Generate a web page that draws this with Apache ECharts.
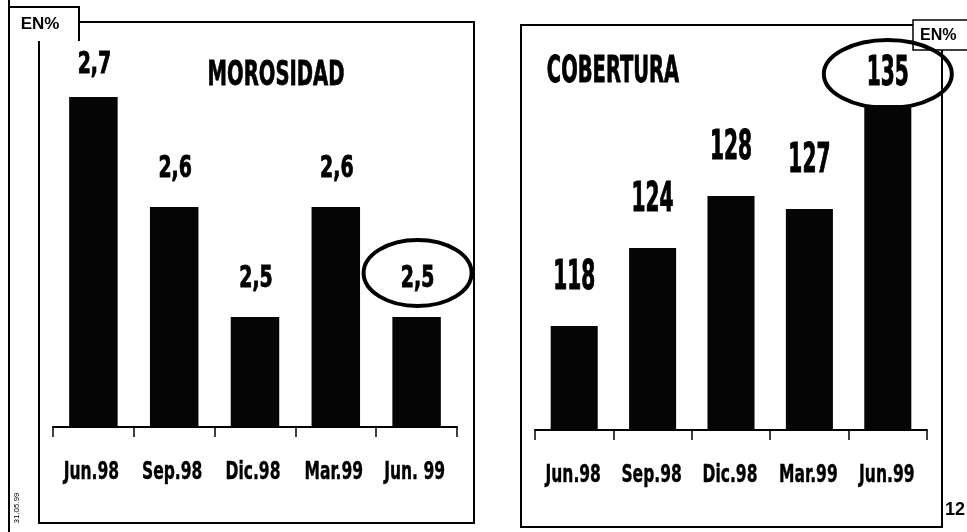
<!DOCTYPE html>
<html>
<head>
<meta charset="utf-8">
<script src="https://cdn.jsdelivr.net/npm/echarts@6/dist/echarts.min.js"></script>
<style>
html,body{margin:0;padding:0;background:#fff;}
#c{width:967px;height:532px;}
</style>
</head>
<body>
<div id="c"></div>
<script>
// ---- data ----
const categoriesMor = ['Jun.98', 'Sep.98', 'Dic.98', 'Mar.99', 'Jun. 99'];
const valuesMor = [2.7, 2.6, 2.5, 2.6, 2.5];
const categoriesCob = ['Jun.98', 'Sep.98', 'Dic.98', 'Mar.99', 'Jun.99'];
const valuesCob = [118, 124, 128, 127, 135];
const titleMor = 'MOROSIDAD';
const titleCob = 'COBERTURA';
const unitLabel = 'EN%';
const pageNumber = '12';
const dateStamp = '31.05.99';

const NARROW = '"Liberation Sans Narrow", "Arial Narrow", "DejaVu Sans Condensed", "DejaVu Sans", sans-serif';
const SANS = '"Liberation Sans", Arial, sans-serif';

const chart = echarts.init(document.getElementById('c'), null, {renderer: 'canvas'});

function catAxis(gridIndex, data) {
  return {
    type: 'category', gridIndex: gridIndex, data: data,
    boundaryGap: true,
    axisLine: {show: true, lineStyle: {color: '#000', width: 2}},
    axisTick: {show: true, length: 10, lineStyle: {color: '#000', width: 1.5}},
    axisLabel: {show: false},
    splitLine: {show: false}
  };
}
function valAxis(gridIndex, min, max) {
  return {type: 'value', gridIndex: gridIndex, min: min, max: max, show: false, splitLine: {show: false}};
}

const option = {
  animation: false,
  backgroundColor: '#fff',
  grid: [
    {left: 53, right: 967 - 457, top: 97, bottom: 532 - 427},
    {left: 535, right: 967 - 927, top: 105, bottom: 532 - 430}
  ],
  xAxis: [catAxis(0, categoriesMor), catAxis(1, categoriesCob)],
  yAxis: [valAxis(0, 2.4, 2.7), valAxis(1, 110, 135)],
  series: [
    {type: 'bar', xAxisIndex: 0, yAxisIndex: 0, data: valuesMor, barWidth: '60%', itemStyle: {color: '#050505'}},
    {type: 'bar', xAxisIndex: 1, yAxisIndex: 1, data: valuesCob, barWidth: '60%', itemStyle: {color: '#050505'}}
  ]
};
chart.setOption(option);

// condensed (tall, narrow) text helper
function tallText(x, y, text, size, sx, sy, weight) {
  return {
    type: 'text', x: x, y: y, scaleX: sx, scaleY: sy,
    style: {text: text, x: 0, y: 0, textAlign: 'center', textVerticalAlign: 'middle',
            font: 'bold ' + size + 'px ' + NARROW, fill: '#000',
            stroke: '#000', lineWidth: weight}
  };
}

const g = [];
// value labels, placed from the data through the axes
valuesMor.forEach((v, i) => {
  const p = chart.convertToPixel({seriesIndex: 0}, [i, v]);
  g.push(tallText(p[0] + 1, p[1] - (i === 0 ? 32 : 38), v.toFixed(1).replace('.', ','), 30, 0.7, 1, 0.9));
});
valuesCob.forEach((v, i) => {
  const p = chart.convertToPixel({seriesIndex: 1}, [i, v]);
  g.push(tallText(p[0], p[1] - (i === valuesCob.length - 1 ? 30 : 47), String(v), 40, 0.56, 1, 1));
});
// category labels, centred on the category positions
categoriesMor.forEach((c, i) => {
  const x = chart.convertToPixel({xAxisIndex: 0}, i);
  g.push(tallText(x - 2, 473, c, 24, 0.72, 1, 0.4));
});
categoriesCob.forEach((c, i) => {
  const x = chart.convertToPixel({xAxisIndex: 1}, i);
  g.push(tallText(x - 1, 476, c, 24, 0.72, 1, 0.4));
});

const pMor = chart.convertToPixel({seriesIndex: 0}, [valuesMor.length - 1, valuesMor[valuesMor.length - 1]]);
const pCob = chart.convertToPixel({seriesIndex: 1}, [valuesCob.length - 1, valuesCob[valuesCob.length - 1]]);

const line = {stroke: '#000', lineWidth: 2, fill: null};
g.push(
  // page left edge line
  {type: 'line', shape: {x1: 9, y1: 0, x2: 9, y2: 532}, style: {stroke: '#000', lineWidth: 2}},
  // EN% box (left)
  {type: 'polyline', shape: {points: [[9, 7], [79, 7], [79, 41]]}, style: line},
  {type: 'text', x: 40, y: 24, style: {text: unitLabel, textAlign: 'center', textVerticalAlign: 'middle', font: 'bold 17px ' + SANS, fill: '#000'}},
  // left panel frame
  {type: 'polyline', shape: {points: [[79, 22], [474, 22], [474, 523], [39, 523], [39, 41]]}, style: line},
  // right panel frame
  {type: 'polyline', shape: {points: [[913, 25], [521, 25], [521, 527], [942, 527], [942, 50]]}, style: line},
  // EN% box (right)
  {type: 'polyline', shape: {points: [[967, 20], [913, 20], [913, 50], [967, 50]]}, style: {stroke: '#000', lineWidth: 1.5, fill: null}},
  {type: 'text', x: 920, y: 36, style: {text: unitLabel, textAlign: 'left', textVerticalAlign: 'middle', font: 'bold 16px ' + SANS, fill: '#000'}},
  // titles
  tallText(276, 76, titleMor, 34, 0.64, 1, 0.8),
  tallText(613, 72, titleCob, 38, 0.57, 1, 0.8),
  // page number and date stamp
  {type: 'text', x: 945, y: 510, style: {text: pageNumber, textAlign: 'left', textVerticalAlign: 'middle', font: 'bold 18px ' + SANS, fill: '#000'}},
  {type: 'text', x: 17, y: 508, rotation: Math.PI / 2, style: {text: dateStamp, x: 0, y: 0, textAlign: 'center', textVerticalAlign: 'middle', font: '8px ' + SANS, fill: '#000'}},
  // highlight ellipses around last values
  {type: 'ellipse', shape: {cx: pMor[0] + 1, cy: pMor[1] - 44, rx: 54, ry: 33}, style: {stroke: '#000', lineWidth: 4, fill: null}},
  {type: 'ellipse', shape: {cx: pCob[0], cy: pCob[1] - 31, rx: 64, ry: 34}, style: {stroke: '#000', lineWidth: 4, fill: null}}
);
chart.setOption({graphic: g});
</script>
</body>
</html>
